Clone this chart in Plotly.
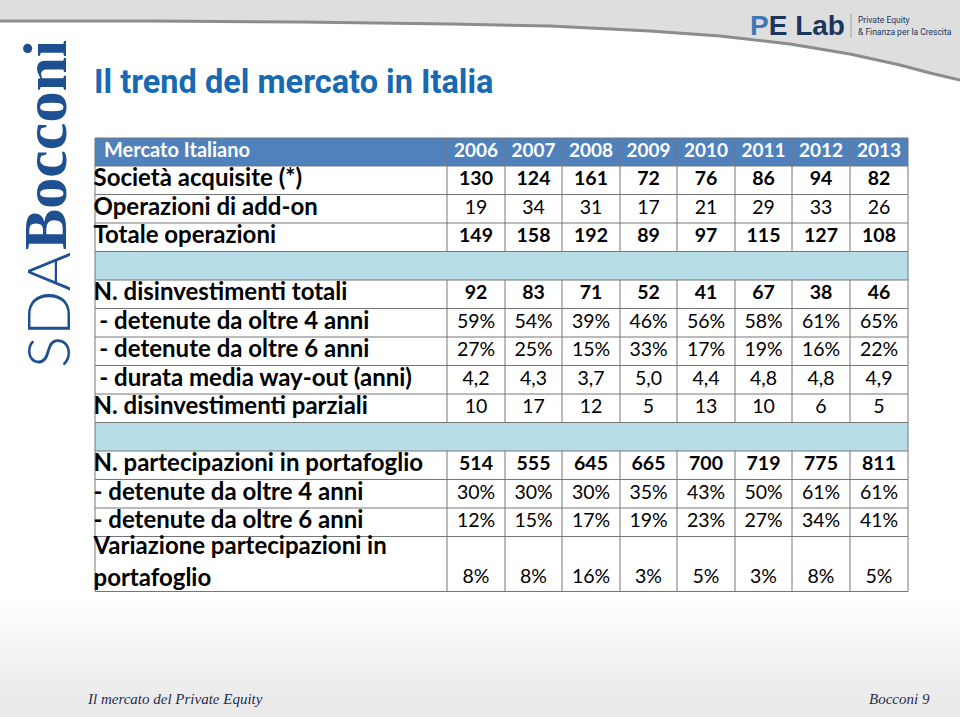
import plotly.graph_objects as go

W, H = 960, 717

# ---------------- data ----------------
years = ["2006", "2007", "2008", "2009", "2010", "2011", "2012", "2013"]
header_label = "Mercato Italiano"

societa_acquisite = [130, 124, 161, 72, 76, 86, 94, 82]
operazioni_add_on = [19, 34, 31, 17, 21, 29, 33, 26]
totale_operazioni = [149, 158, 192, 89, 97, 115, 127, 108]
disinv_totali = [92, 83, 71, 52, 41, 67, 38, 46]
disinv_oltre4_pct = [59, 54, 39, 46, 56, 58, 61, 65]
disinv_oltre6_pct = [27, 25, 15, 33, 17, 19, 16, 22]
durata_media_anni = [4.2, 4.3, 3.7, 5.0, 4.4, 4.8, 4.8, 4.9]
disinv_parziali = [10, 17, 12, 5, 13, 10, 6, 5]
partecipazioni = [514, 555, 645, 665, 700, 719, 775, 811]
port_oltre4_pct = [30, 30, 30, 35, 43, 50, 61, 61]
port_oltre6_pct = [12, 15, 17, 19, 23, 27, 34, 41]
variazione_pct = [8, 8, 16, 3, 5, 3, 8, 5]

row_labels = [
    "Società acquisite (*)",
    "Operazioni di add-on",
    "Totale operazioni",
    "",
    "N. disinvestimenti totali",
    "\u00a0- detenute da oltre 4 anni",
    "\u00a0- detenute da oltre 6 anni",
    "\u00a0- durata media way-out (anni)",
    "N. disinvestimenti parziali",
    "",
    "N. partecipazioni in portafoglio",
    "- detenute da oltre 4 anni",
    "- detenute da oltre 6 anni",
    "Variazione partecipazioni in<br>portafoglio",
]


def fmt_int(v):
    return str(v)


def fmt_pct(v):
    return f"{v}%"


def fmt_dec(v):
    return f"{v:.1f}".replace(".", ",")


# (values, formatter, bold, kind)
rows = [
    (societa_acquisite, fmt_int, True, "data"),
    (operazioni_add_on, fmt_int, False, "data"),
    (totale_operazioni, fmt_int, True, "data"),
    (None, None, False, "blank"),
    (disinv_totali, fmt_int, True, "data"),
    (disinv_oltre4_pct, fmt_pct, False, "data"),
    (disinv_oltre6_pct, fmt_pct, False, "data"),
    (durata_media_anni, fmt_dec, False, "data"),
    (disinv_parziali, fmt_int, False, "data"),
    (None, None, False, "blank"),
    (partecipazioni, fmt_int, True, "data"),
    (port_oltre4_pct, fmt_pct, False, "data"),
    (port_oltre6_pct, fmt_pct, False, "data"),
    (variazione_pct, fmt_pct, False, "tall"),
]

# ---------------- table geometry (pixels) ----------------
HEADER_BLUE = "#4f81bd"
LIGHT_BLUE = "#b7dee8"
LINE = "#767676"

col_widths = [352, 58, 57, 58, 57, 58, 57, 58, 58]
header_h = 28
row_h = 28.5
tall_h = 55
TX0, TY0 = 95, 138   # table top-left on the page

x_edges = [0]
for w in col_widths:
    x_edges.append(x_edges[-1] + w)
row_heights = [header_h] + [tall_h if r[3] == "tall" else row_h for r in rows]
y_edges = [0]
for h in row_heights:
    y_edges.append(y_edges[-1] + h)
TW, TH = x_edges[-1], y_edges[-1]
x_mid = [(a + b) / 2 for a, b in zip(x_edges[:-1], x_edges[1:])]
y_mid = [(a + b) / 2 for a, b in zip(y_edges[:-1], y_edges[1:])]

# cell fills: 0 header, 1 white, 2 light blue
z = [[0] * len(col_widths)]
for r in rows:
    z.append([2 if r[3] == "blank" else 1] * len(col_widths))

fig = go.Figure()
fig.add_trace(go.Heatmap(
    x=x_edges, y=y_edges, z=z, zmin=0, zmax=2, showscale=False, hoverinfo="skip",
    colorscale=[[0, HEADER_BLUE], [0.333, HEADER_BLUE], [0.334, "white"], [0.666, "white"],
                [0.667, LIGHT_BLUE], [1, LIGHT_BLUE]],
))

# grid lines
lx, ly = [], []
for ye in y_edges:
    lx += [0, TW, None]
    ly += [ye, ye, None]
for i, xe in enumerate(x_edges):
    outer = i == 0 or i == len(x_edges) - 1
    for k in range(len(row_heights)):
        if k > 0 and rows[k - 1][3] == "blank" and not outer:
            continue
        lx += [xe, xe, None]
        ly += [y_edges[k], y_edges[k + 1], None]
fig.add_trace(go.Scatter(x=lx, y=ly, mode="lines", line=dict(color=LINE, width=1),
                         hoverinfo="skip", showlegend=False))

# header texts
fig.add_trace(go.Scatter(
    x=[9], y=[y_mid[0]], text=[f"<b>{header_label}</b>"], mode="text",
    textposition="middle right", hoverinfo="skip", showlegend=False,
    textfont=dict(family="Lato", size=20, color="white")))
fig.add_trace(go.Scatter(
    x=x_mid[1:], y=[y_mid[0]] * len(years), text=[f"<b>{y}</b>" for y in years], mode="text",
    textposition="middle center", hoverinfo="skip", showlegend=False,
    textfont=dict(family="Lato", size=19, color="white")))

# row labels and values
lab_x, lab_y, lab_t = [], [], []
val_x, val_y, val_t = [], [], []
for k, (lbl, (vals, f, bold, kind)) in enumerate(zip(row_labels, rows)):
    yc = y_mid[k + 1]
    if lbl:
        lab_x.append(-1.5)
        lab_y.append(yc)
        lab_t.append(f"<b>{lbl}</b>")
    if kind == "blank":
        continue
    vy = y_edges[k + 2] - 13.5 if kind == "tall" else yc
    for j, v in enumerate(vals):
        s = f(v)
        val_x.append(x_mid[j + 1])
        val_y.append(vy)
        val_t.append(f"<b>{s}</b>" if bold else s)

fig.add_trace(go.Scatter(
    x=lab_x, y=lab_y, text=lab_t, mode="text", textposition="middle right",
    hoverinfo="skip", showlegend=False,
    textfont=dict(family="Lato", size=24, color="black")))
fig.add_trace(go.Scatter(
    x=val_x, y=val_y, text=val_t, mode="text", textposition="middle center",
    hoverinfo="skip", showlegend=False,
    textfont=dict(family="Lato", size=19.5, color="black")))

PADPX = 2
fig.update_xaxes(visible=False, range=[-PADPX, TW + PADPX], fixedrange=True,
                 domain=[(TX0 - PADPX) / W, (TX0 + TW + PADPX) / W])
fig.update_yaxes(visible=False, range=[TH + PADPX, -PADPX], fixedrange=True,
                 domain=[1 - (TY0 + TH + PADPX) / H, 1 - (TY0 - PADPX) / H])


# ---------------- decorations ----------------
def P(x, y):
    return x / W, 1 - y / H


def path(points, close=True):
    s = ""
    for i, (x, y) in enumerate(points):
        px, py = P(x, y)
        s += ("M" if i == 0 else "L") + f"{px:.5f},{py:.5f} "
    return s + ("Z" if close else "")


top_curve = [(0, 21), (150, 21), (300, 22), (450, 24), (550, 26), (650, 31), (720, 36),
             (790, 44), (850, 54), (900, 65), (930, 73), (960, 80)]
fig.add_shape(type="path", xref="paper", yref="paper",
              path=path([(0, 0), (960, 0)] + top_curve[::-1]),
              fillcolor="#dedede", line=dict(width=0), layer="below")
fig.add_shape(type="path", xref="paper", yref="paper", path=path(top_curve, close=False),
              line=dict(color="#8c8c8c", width=3), layer="below")

# soft bottom shading (stacked translucent bands)
for k in range(12):
    y0 = 600 + k * 10
    bx0, by0 = P(0, y0)
    bx1, by1 = P(960, 717)
    fig.add_shape(type="rect", xref="paper", yref="paper", x0=bx0, y0=by0, x1=bx1, y1=by1,
                  fillcolor="#e4e4e4", opacity=0.06, line=dict(width=0), layer="below")

ann = []


def text(x, y, t, xanchor="left", yanchor="middle", **font):
    px, py = P(x, y)
    ann.append(dict(x=px, y=py, xref="paper", yref="paper", text=t, showarrow=False,
                    xanchor=xanchor, yanchor=yanchor, font=font))


# title
text(92, 82, "<b>Il trend del mercato in Italia</b>", family="Roboto", size=32.5, color="#1769b3")

# SDA Bocconi (vertical)
px, py = P(47, 370)
ann.append(dict(x=px, y=py, xref="paper", yref="paper", text="SDA", showarrow=False,
                textangle=-90, xanchor="center", yanchor="bottom",
                font=dict(family="Lato", size=60, color="#1d4f91", weight=300)))
px, py = P(45, 252)
ann.append(dict(x=px, y=py, xref="paper", yref="paper", text="<b>Bocconi</b>", showarrow=False,
                textangle=-90, xanchor="center", yanchor="bottom",
                font=dict(family="Liberation Serif", size=62, color="#1d4f91")))

# PE Lab logo
text(748, 26, "<b><span style='color:#3f78b4'>P</span>E Lab</b>", family="Liberation Sans",
     size=28, color="#1b365d")
sx, sy0 = P(851, 14)
_, sy1 = P(851, 38)
fig.add_shape(type="line", xref="paper", yref="paper", x0=sx, x1=sx, y0=sy0, y1=sy1,
              line=dict(color="#a0a0a0", width=1))
text(856, 20, "Private Equity", family="Roboto", size=8.5, color="#1b365d")
text(856, 32, "& Finanza per la Crescita", family="Roboto", size=8.5, color="#1b365d")

# footer
text(85, 699, "<i>Il mercato del Private Equity</i>", family="Liberation Serif", size=15, color="#1f2d4f")
text(932, 699, "<i>Bocconi 9</i>", xanchor="right", family="Liberation Serif", size=15, color="#1f2d4f")

fig.update_layout(
    width=W, height=H,
    margin=dict(l=0, r=0, t=0, b=0),
    paper_bgcolor="white", plot_bgcolor="rgba(0,0,0,0)",
    annotations=ann,
    showlegend=False,
)

fig.write_html("out.html", config={"displayModeBar": False},
               post_script="document.body.style.margin='0';")
